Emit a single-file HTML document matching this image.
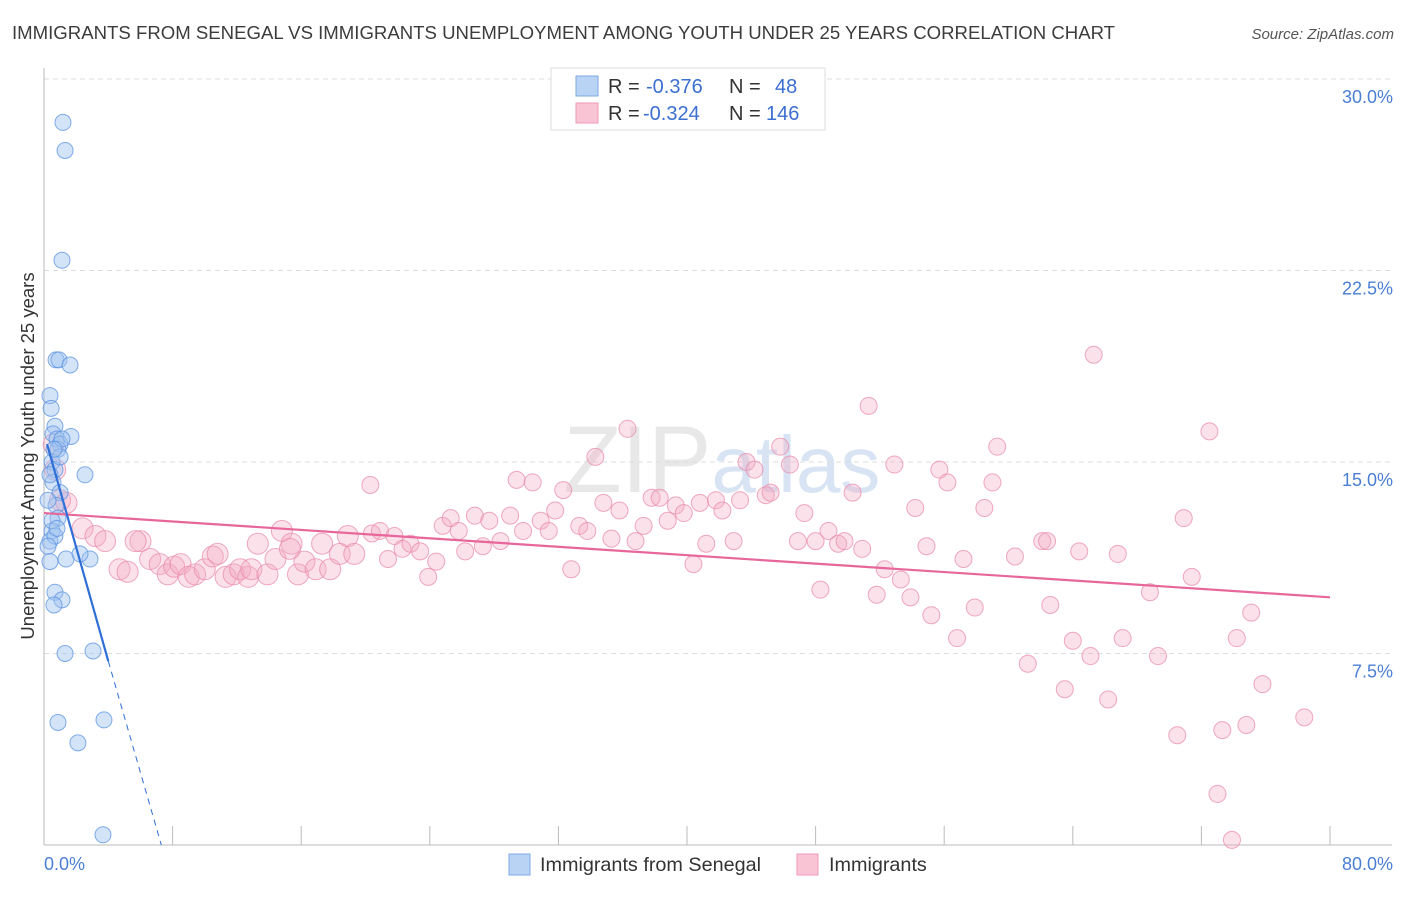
<!DOCTYPE html>
<html><head><meta charset="utf-8"><style>
body{margin:0;background:#fff;font-family:"Liberation Sans",sans-serif;}
svg text{font-family:"Liberation Sans",sans-serif;}
</style></head><body>
<svg id="c" width="1406" height="892" xmlns="http://www.w3.org/2000/svg">
<text x="12" y="39" font-size="18.6" fill="#3c3c3c">IMMIGRANTS FROM SENEGAL VS IMMIGRANTS UNEMPLOYMENT AMONG YOUTH UNDER 25 YEARS CORRELATION CHART</text>
<text x="1394" y="39" font-size="15" fill="#555" font-style="italic" text-anchor="end">Source: ZipAtlas.com</text>
<text x="0" y="0" font-size="18.5" fill="#333" text-anchor="middle" transform="translate(34,456) rotate(-90)">Unemployment Among Youth under 25 years</text>
<text x="722" y="492" font-size="95" fill="#e8e8e8" text-anchor="middle" font-family="Liberation Serif">ZIP<tspan fill="#d8e4f3" font-family="Liberation Sans" font-size="80">atlas</tspan></text>
<g id="grid"></g><g id="pink"></g><g id="blue"></g><g id="lines"></g>
<g>
<rect x="551" y="68" width="274" height="62" fill="#fff" stroke="#ddd"/>
<rect x="576" y="76" width="22" height="20" fill="#b9d3f5" stroke="#7fa9e0"/>
<rect x="576" y="103" width="22" height="20" fill="#f9c5d5" stroke="#ee9ab4"/>
<text x="608" y="93" font-size="20" fill="#333">R = <tspan x="646" fill="#3b6fd0">-0.376</tspan><tspan x="729">N = </tspan><tspan x="775" fill="#3b6fd0">48</tspan></text>
<text x="608" y="120" font-size="20" fill="#333">R = <tspan x="643" fill="#3b6fd0">-0.324</tspan><tspan x="729">N = </tspan><tspan x="766" fill="#3b6fd0">146</tspan></text>
</g>
<g>
<rect x="509" y="854" width="21" height="21" fill="#b9d3f5" stroke="#7fa9e0"/>
<text x="540" y="871" font-size="19.8" fill="#333">Immigrants from Senegal</text>
<rect x="797" y="854" width="21" height="21" fill="#f9c5d5" stroke="#ee9ab4"/>
<text x="829" y="871" font-size="19.8" fill="#333">Immigrants</text>
</g>
</svg>
<script>
const xTicks=[0,8,16,24,32,40,48,56,64,72,80];
const yTicks=[7.5,15,22.5,30];
const yTickLabels=["7.5%","15.0%","22.5%","30.0%"];
const blueX=[1.18,1.31,1.12,0.75,0.93,1.62,0.37,0.44,0.68,0.56,0.81,1.0,1.68,0.87,2.55,0.5,0.68,0.56,1.0,0.75,0.87,0.5,0.37,0.68,0.25,0.37,1.37,2.86,2.24,0.68,1.12,0.62,1.31,3.05,0.87,3.73,2.11,3.67,0.25,0.5,0.81,0.37,1.0,1.12,0.62];
const blueY=[28.3,27.2,22.9,19.0,19.0,18.8,17.6,17.1,16.4,16.1,15.9,15.7,16.0,15.5,14.5,15.0,14.7,14.2,13.8,13.3,12.8,12.3,11.9,12.1,11.7,11.1,11.2,11.2,11.4,9.9,9.6,9.4,7.5,7.6,4.8,4.9,4.0,0.4,13.5,12.7,12.4,14.5,15.2,15.9,15.5];
const pinkX=[1.0,0.7,0.6,1.4,2.4,3.2,3.8,4.7,5.2,6.0,6.6,7.2,7.7,8.1,8.5,9.0,9.4,10.0,10.5,10.8,11.3,11.8,12.2,12.7,12.9,13.3,13.9,14.4,14.8,15.4,15.8,16.2,16.9,17.3,17.8,18.4,18.9,19.3,20.3,20.4,20.9,21.4,21.8,22.3,22.8,23.4,23.9,24.4,24.8,25.3,25.8,26.2,26.8,27.3,27.7,28.4,29.0,29.4,29.8,30.4,30.9,31.4,31.8,32.3,32.8,33.3,33.8,34.3,34.8,35.3,35.8,36.3,36.8,37.3,37.8,38.3,38.8,39.3,39.8,40.4,40.8,41.2,41.8,42.2,42.9,43.3,43.7,44.2,44.9,45.2,45.8,46.4,47.3,46.9,48.0,48.3,48.8,49.4,49.8,50.3,50.9,51.3,51.8,52.3,52.9,53.3,53.9,54.2,54.9,55.2,55.7,56.2,56.8,57.2,57.9,58.5,59.0,59.3,60.4,61.2,62.1,62.4,62.6,63.5,64.0,64.4,65.1,65.3,66.2,67.1,68.8,69.3,70.5,70.9,71.4,72.5,73.0,73.3,74.2,74.8,75.1,75.8,78.4,73.9,5.7,15.3,66.8];
const pinkY=[13.5,14.7,15.7,13.4,12.4,12.1,11.9,10.8,10.7,11.9,11.2,11.0,10.6,10.9,11.0,10.5,10.6,10.8,11.3,11.4,10.5,10.6,10.8,10.5,10.8,11.8,10.6,11.2,12.3,11.8,10.6,11.1,10.8,11.8,10.8,11.4,12.1,11.4,14.1,12.2,12.3,11.2,12.1,11.6,11.8,11.5,10.5,11.1,12.5,12.8,12.3,11.5,12.9,11.7,12.7,11.9,12.9,14.3,12.3,14.2,12.7,12.3,13.1,13.9,10.8,12.5,12.3,15.2,13.4,12.0,13.1,16.3,11.9,12.5,13.6,13.6,12.7,13.3,13.0,11.0,13.4,11.8,13.5,13.1,11.9,13.5,15.0,14.7,13.7,13.8,15.6,14.9,13.0,11.9,11.9,10.0,12.3,11.8,11.9,13.8,11.6,17.2,9.8,10.8,14.9,10.4,9.7,13.2,11.7,9.0,14.7,14.2,8.1,11.2,9.3,13.2,14.2,15.6,11.3,7.1,11.9,11.9,9.4,6.1,8.0,11.5,7.4,19.2,5.7,8.1,9.9,7.4,4.3,12.8,10.5,16.2,2.0,4.5,8.1,4.7,9.1,6.3,5.0,0.2,11.9,11.6,11.4];
const blueTrend=[[0.19,15.7],[4.0,7.2]];
const blueTrendDash=[[4.0,7.2],[7.3,0]];
const pinkTrend=[[0,13.0],[80,9.7]];
const NS="http://www.w3.org/2000/svg";
const X=v=>44+v/80*1286, Y=v=>845-v/30*766;
function mk(tag,attrs,parent){const e=document.createElementNS(NS,tag);for(const k in attrs)e.setAttribute(k,attrs[k]);parent.appendChild(e);return e;}
const grid=document.getElementById('grid');
yTicks.forEach((t,i)=>{
 const l=mk('line',{x1:44,x2:1392,y1:Y(t),y2:Y(t),stroke:'#dcdcdc','stroke-dasharray':'5,4'},grid);
 
 
 const tx=mk('text',{x:1393,y:Y(t)+24,'font-size':18,fill:'#4a7fd4','text-anchor':'end'},grid);
 tx.textContent=yTickLabels[i];
 
 
});
const ax=mk('line',{x1:44,x2:1392,y1:845,y2:845,stroke:'#bbb'},grid);


const ay=mk('line',{x1:44,x2:44,y1:68,y2:845,stroke:'#bbb'},grid);


xTicks.forEach(t=>{const l=mk('line',{x1:X(t),x2:X(t),y1:826,y2:845,stroke:'#bbb'},grid);
 
 });
[[0,"0.0%",44,'start'],[80,"80.0%",1393,'end']].forEach(a=>{const t=mk('text',{x:a[2],y:870,'font-size':18,fill:'#4a7fd4','text-anchor':a[3]},grid);t.textContent=a[1];
 
 });
const pg=document.getElementById('pink');
pinkX.forEach((v,i)=>{const c=mk('circle',{cx:X(v),cy:Y(pinkY[i]),r:v<20?10.5:8.5,fill:'rgba(244,170,196,0.35)',stroke:'rgba(232,140,172,0.75)','stroke-width':1},pg);
 
 });
const bg=document.getElementById('blue');
blueX.forEach((v,i)=>{const c=mk('circle',{cx:X(v),cy:Y(blueY[i]),r:8,fill:'rgba(160,196,240,0.45)',stroke:'rgba(90,145,225,0.75)','stroke-width':1},bg);
 
 });
const lg=document.getElementById('lines');
const pl=mk('line',{x1:X(pinkTrend[0][0]),y1:Y(pinkTrend[0][1]),x2:X(pinkTrend[1][0]),y2:Y(pinkTrend[1][1]),stroke:'#e8679a','stroke-width':2.2},lg);


const bl=mk('line',{x1:X(blueTrend[0][0]),y1:Y(blueTrend[0][1]),x2:X(blueTrend[1][0]),y2:Y(blueTrend[1][1]),stroke:'#2f6fd6','stroke-width':2.2},lg);


const bd=mk('line',{x1:X(blueTrendDash[0][0]),y1:Y(blueTrendDash[0][1]),x2:X(blueTrendDash[1][0]),y2:Y(blueTrendDash[1][1]),stroke:'#2f6fd6','stroke-width':1,'stroke-dasharray':'6,5'},lg);


</script>
</body></html>
